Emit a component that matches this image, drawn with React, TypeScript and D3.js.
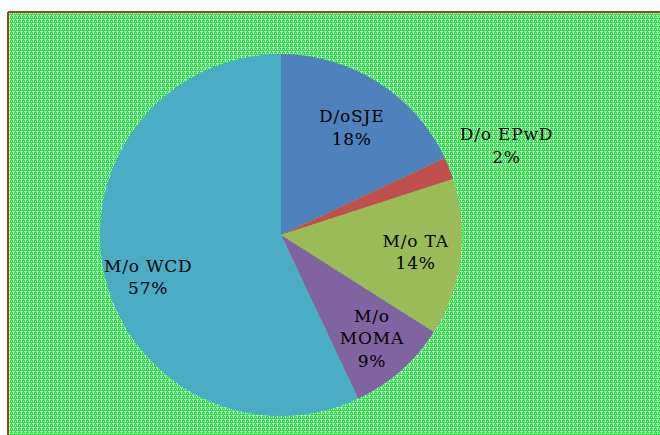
import React from "react";
import * as d3 from "d3";

const categories = ["D/oSJE", "D/o EPwD", "M/o TA", "M/o MOMA", "M/o WCD"];
const shares = [18, 2, 14, 9, 57];
const colors = ["#4f81bd", "#c0504d", "#9bbb59", "#8064a2", "#4bacc6"];
// label lines per slice (the wrapped category name followed by the percentage)
const labelLines = [
  ["D/oSJE", "18%"],
  ["D/o EPwD", "2%"],
  ["M/o TA", "14%"],
  ["M/o", "MOMA", "9%"],
  ["M/o WCD", "57%"],
];

// label placement: radius as a fraction of the pie radius, angle nudge in degrees
const labelRadius = [0.71, 1.34, 0.75, 0.76, 0.77];
const labelNudge = [1, 0, 0, 0, -5];

const W = 660;
const H = 435;
const cx = 281;
const cy = 235;
const R = 181;

export default function App() {
  const data = categories.map((c, i) => ({ name: c, value: shares[i], i }));
  const pie = d3.pie<any>().value((d) => d.value).sort(null);
  const arcs = pie(data);
  const arc = d3.arc<any>().innerRadius(0).outerRadius(R);

  return (
    <svg
      width={W}
      height={H}
      style={{ position: "absolute", left: 0, top: 0 }}
      fontFamily="'DejaVu Serif', serif"
    >
      <defs>
        <pattern id="weave" width={4} height={4} patternUnits="userSpaceOnUse">
          <rect width={4} height={4} fill="#30e54b" />
          <rect x={1} y={0} width={1} height={2} fill="#ffffff" opacity={0.9} />
          <rect x={0} y={3} width={3} height={1} fill="#ffffff" opacity={0.6} />
          <rect x={3} y={1} width={1} height={1} fill="#bdf8c4" />
        </pattern>
      </defs>
      <rect x={0} y={0} width={W} height={H} fill="#ffffff" />
      <rect x={8} y={12} width={W} height={H} fill="url(#weave)" />
      <line x1={8} y1={12} x2={W} y2={12} stroke="#9a4818" strokeWidth={2} />
      <line x1={8} y1={12} x2={8} y2={H} stroke="#9a4818" strokeWidth={2} />
      <g transform={`translate(${cx},${cy})`}>
        {arcs.map((a) => (
          <path key={a.data.name} d={arc(a) || ""} fill={colors[a.data.i]} />
        ))}
        {arcs.map((a) => {
          const mid =
            (a.startAngle + a.endAngle) / 2 + (labelNudge[a.data.i] * Math.PI) / 180;
          const r = R * labelRadius[a.data.i];
          const x = Math.sin(mid) * r;
          const y = -Math.cos(mid) * r;
          const lines = labelLines[a.data.i];
          const lh = 22.5;
          const y0 = y - ((lines.length - 1) * lh) / 2;
          return (
            <text
              key={"t" + a.data.name}
              x={x}
              y={y0}
              textAnchor="middle"
              dominantBaseline="central"
              fontSize={17}
              letterSpacing={0.8}
              fill="#000"
            >
              {lines.map((l, k) => (
                <tspan key={k} x={x} y={y0 + k * lh}>
                  {l}
                </tspan>
              ))}
            </text>
          );
        })}
      </g>
    </svg>
  );
}
